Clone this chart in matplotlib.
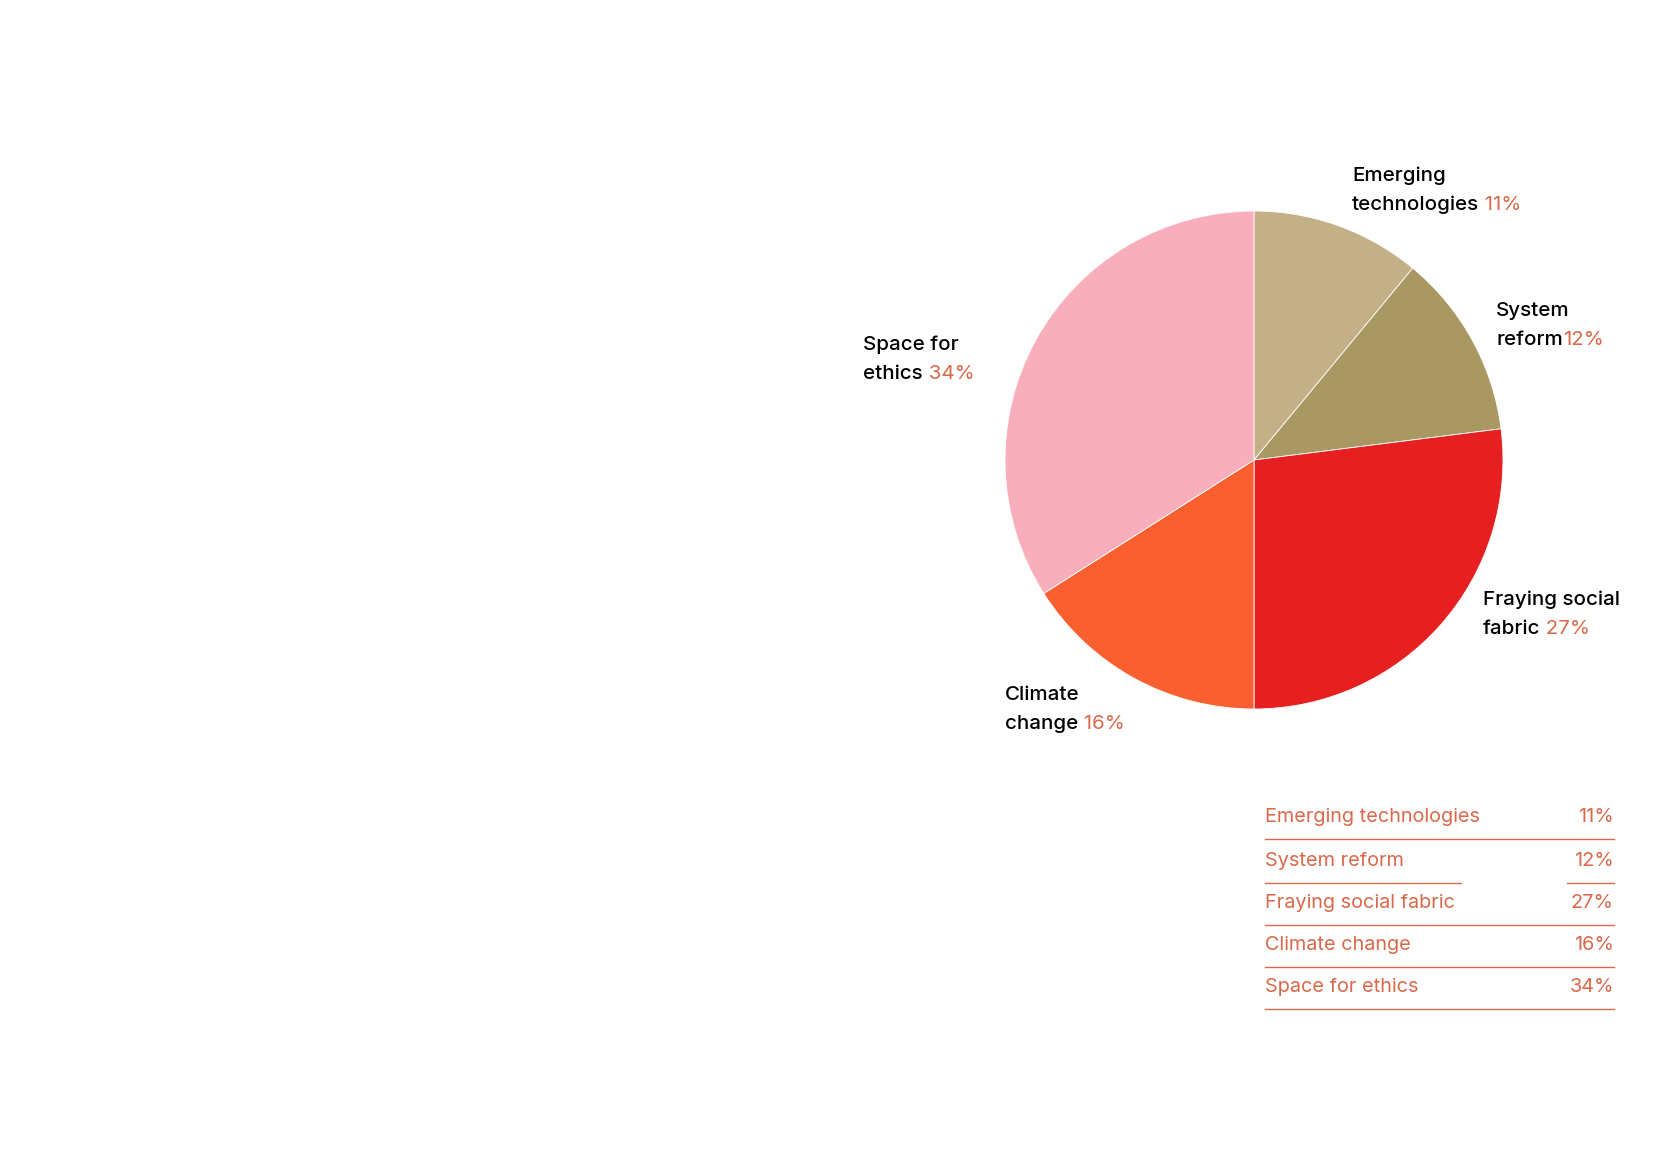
import matplotlib
matplotlib.use("Agg")
import matplotlib.pyplot as plt

# data
categories = ["Emerging technologies", "System reform", "Fraying social fabric",
              "Climate change", "Space for ethics"]
shares = [11, 12, 27, 16, 34]
colors = ["#C4B087", "#AA9863", "#E62020", "#F95F2F", "#F8AFBB"]
# pie labels split over two lines (second line gets the percentage)
label_lines = [("Emerging", "technologies"), ("System", "reform"),
               ("Fraying social", "fabric"), ("Climate", "change"),
               ("Space for", "ethics")]
pct_sep = [" ", "", " ", " ", " "]

W, H = 1653, 1169
ORANGE = "#D9694A"
FONT = "Inter"

fig = plt.figure(figsize=(W / 100, H / 100), dpi=100)
fig.patch.set_facecolor("white")

# pie axes, center (1254, 460) px, radius 249 px
cx, cy, r = 1254, 460, 249
ax = fig.add_axes([(cx - r) / W, (H - cy - r) / H, 2 * r / W, 2 * r / H])
ax.pie(shares, colors=colors, startangle=90, counterclock=False,
       wedgeprops=dict(linewidth=0.6, edgecolor="white"))
ax.set_xlim(-1, 1)
ax.set_ylim(-1, 1)
ax.axis("off")

# overlay axes in pixel coordinates for text
tx = fig.add_axes([0, 0, 1, 1])
tx.set_xlim(0, W)
tx.set_ylim(H, 0)
tx.axis("off")

label_pos = [(1352, 175.5), (1496, 310.5), (1483, 599.5), (1005, 694.5), (863, 344.5)]
line_gap = 29.5
for (l1, l2), sep, v, (x, y) in zip(label_lines, pct_sep, shares, label_pos):
    tx.text(x, y, l1, fontsize=14.8, family=FONT, weight="medium",
            color="black", va="center", ha="left")
    t2 = tx.text(x, y + line_gap, l2, fontsize=14.8, family=FONT,
                 weight="medium", color="black", va="center", ha="left")
    tx.annotate(f"{sep}{v}%", xy=(1, 0.5), xycoords=t2, va="center",
                ha="left", fontsize=14.8, family=FONT, color=ORANGE)

# summary table
tab_left, tab_right = 1265, 1614
row_y = [816.5, 860.5, 902.5, 944.5, 986.5]
for name, v, y in zip(categories, shares, row_y):
    tx.text(tab_left, y, name, fontsize=14.3, family=FONT, color=ORANGE,
            va="center", ha="left")
    tx.text(tab_right, y, f"{v}%", fontsize=14.3, family=FONT, color=ORANGE,
            va="center", ha="right")
    ly = y + 22
    if name == "System reform":
        tx.plot([tab_left, 1461], [ly, ly], color=ORANGE, lw=1.0)
        tx.plot([1567, tab_right], [ly, ly], color=ORANGE, lw=1.0)
    else:
        tx.plot([tab_left, tab_right], [ly, ly], color=ORANGE, lw=1.0)

fig.savefig("out.png", dpi=100, facecolor="white")
